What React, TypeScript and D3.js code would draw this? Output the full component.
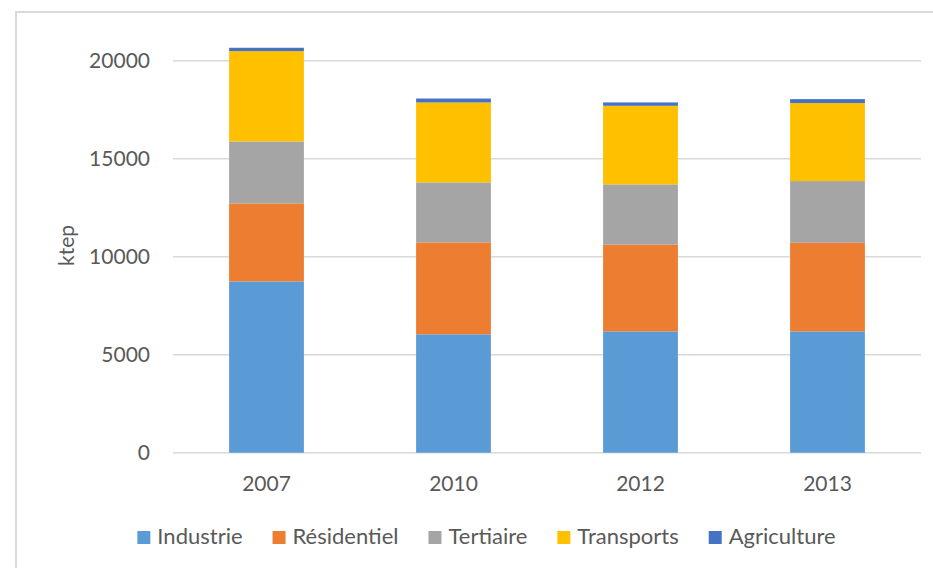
import React, { useEffect, useRef } from "react";
import * as d3 from "d3";

// Consommation d'énergie finale par secteur (ktep)
const years = ["2007", "2010", "2012", "2013"];
const seriesNames = ["Industrie", "Résidentiel", "Tertiaire", "Transports", "Agriculture"];
const industrie = [8740, 6040, 6190, 6190];
const residentiel = [3980, 4690, 4420, 4520];
const tertiaire = [3160, 3060, 3080, 3150];
const transports = [4610, 4080, 4010, 3980];
const agriculture = [170, 200, 170, 200];
const yTicks = [0, 5000, 10000, 15000, 20000];
const colors = ["#5B9BD5", "#ED7D31", "#A5A5A5", "#FFC000", "#4472C4"];

const W = 933;
const H = 568;
const FONT = "Lato, 'Liberation Sans', sans-serif";
const TEXT = "#595959";
const GRID = "#D9D9D9";

export default function App() {
  const ref = useRef<SVGSVGElement>(null);

  useEffect(() => {
    const svg = d3.select(ref.current);
    svg.selectAll("*").remove();

    const margin = { top: 60.7, left: 173, right: 12, bottom: 115.3 };
    const x = d3.scaleBand<string>()
      .domain(years)
      .range([margin.left, W - margin.right])
      .paddingInner(0.6)
      .paddingOuter(0.3);
    const y = d3.scaleLinear().domain([0, 20000]).range([H - margin.bottom, margin.top]);

    // Chart frame (cropped on the right and bottom)
    svg.append("rect")
      .attr("x", 16).attr("y", 12)
      .attr("width", W + 40).attr("height", H + 40)
      .attr("fill", "#fff").attr("stroke", GRID).attr("stroke-width", 2);

    // Gridlines
    svg.append("g").selectAll("line").data(yTicks).join("line")
      .attr("x1", margin.left).attr("x2", W - margin.right)
      .attr("y1", d => y(d)).attr("y2", d => y(d))
      .attr("stroke", GRID).attr("stroke-width", 1.4);

    // Stacked bars
    const rows = years.map((yr, i) => ({
      year: yr,
      Industrie: industrie[i],
      "Résidentiel": residentiel[i],
      Tertiaire: tertiaire[i],
      Transports: transports[i],
      Agriculture: agriculture[i],
    }));
    const stacked = d3.stack<any>().keys(seriesNames)(rows);

    svg.append("g").selectAll("g").data(stacked).join("g")
      .attr("fill", (_, i) => colors[i])
      .selectAll("rect").data(d => d).join("rect")
      .attr("x", d => x(d.data.year)!)
      .attr("width", x.bandwidth())
      .attr("y", d => y(d[1]))
      .attr("height", d => y(d[0]) - y(d[1]));

    // Y axis labels
    const yAxis = svg.append("g")
      .attr("transform", `translate(${margin.left - 23},0)`)
      .call(d3.axisLeft(y).tickValues(yTicks).tickSize(0).tickPadding(0).tickFormat(d3.format("d")));
    yAxis.select(".domain").remove();
    yAxis.selectAll("text")
      .attr("fill", TEXT).style("font-family", FONT).style("font-size", "21px");

    // X axis labels
    const xAxis = svg.append("g")
      .attr("transform", `translate(0,${y(0)})`)
      .call(d3.axisBottom(x).tickSize(0).tickPadding(23));
    xAxis.select(".domain").remove();
    xAxis.selectAll("text")
      .attr("fill", TEXT).style("font-family", FONT).style("font-size", "21px");

    // Y title
    svg.append("text")
      .attr("transform", "translate(74,245.5) rotate(-90)")
      .attr("text-anchor", "middle")
      .attr("fill", TEXT).style("font-family", FONT).style("font-size", "21px")
      .text("ktep");

    // Legend, centred on the chart
    const legend = svg.append("g");
    const items = legend.selectAll("g").data(seriesNames).join("g");
    items.append("rect")
      .attr("width", 13).attr("height", 13).attr("y", 531)
      .attr("fill", (_, i) => colors[i]);
    items.append("text")
      .attr("x", 20).attr("y", 544)
      .attr("fill", TEXT).style("font-family", FONT).style("font-size", "22px")
      .text(d => d);
    const widths: number[] = [];
    items.selectAll<SVGTextElement, string>("text").each(function () {
      widths.push(20 + this.getComputedTextLength());
    });
    const gap = 30;
    const total = d3.sum(widths) + gap * (widths.length - 1);
    let cx = 486.5 - total / 2;
    items.attr("transform", (_, i) => {
      const t = `translate(${cx},0)`;
      cx += widths[i] + gap;
      return t;
    });
  }, []);

  return (
    <svg ref={ref} width={W} height={H} style={{ display: "block", position: "absolute", left: 0, top: 0 }} />
  );
}
